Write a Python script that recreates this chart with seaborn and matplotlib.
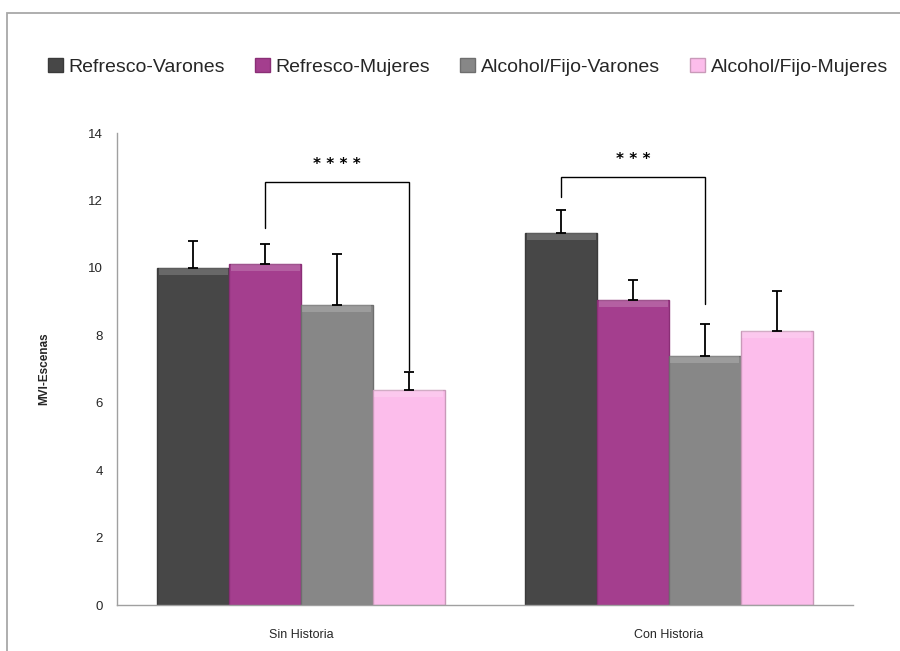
import matplotlib
matplotlib.use("Agg")
import matplotlib.pyplot as plt
from matplotlib.patches import Rectangle
import seaborn as sns
import pandas as pd
import numpy as np

# Data
grupos = ["Sin Historia", "Con Historia"]
condiciones = ["Refresco-Varones", "Refresco-Mujeres", "Alcohol/Fijo-Varones", "Alcohol/Fijo-Mujeres"]
media_sin = [10.0, 10.12, 8.9, 6.38]
media_con = [11.03, 9.05, 7.39, 8.13]
error_sin = [0.80, 0.59, 1.51, 0.53]
error_con = [0.69, 0.59, 0.95, 1.18]
colores = ["#474747", "#A43E8E", "#878787", "#FCBDEB"]
bordes = ["#3a3a3a", "#8a2f76", "#6e6e6e", "#c99ab9"]

# Significance brackets: (group, left condition, right condition, left foot, top, right foot, label)
corchetes = [
    (0, 1, 3, 11.18, 12.55, 6.97, "* * * *"),
    (1, 0, 2, 12.10, 12.70, 8.93, "* * *"),
]

sns.set_style("white")
plt.rcParams["font.family"] = ["Liberation Sans", "DejaVu Sans"]

filas = []
for g, medias, errs in [(grupos[0], media_sin, error_sin), (grupos[1], media_con, error_con)]:
    for c, m, e in zip(condiciones, medias, errs):
        filas.append({"grupo": g, "condicion": c, "valor": m, "error": e})
df = pd.DataFrame(filas)

fig = plt.figure(figsize=(9, 6.51), dpi=100)
ax = fig.add_axes([117 / 900, 1 - 605 / 651, 736 / 900, 472 / 651])

sns.barplot(data=df, x="grupo", y="valor", hue="condicion", order=grupos,
            hue_order=condiciones, palette=colores, width=0.78, gap=0,
            errorbar=None, ax=ax, legend=False, saturation=1)

# Style bars and add upper error bars from the data
centros = {}
barras = list(ax.containers)
for ci, cont in enumerate(barras):
    for gi, patch in enumerate(cont.patches):
        patch.set_edgecolor(bordes[ci])
        patch.set_linewidth(1.0)
        xc = patch.get_x() + patch.get_width() / 2
        centros[(gi, ci)] = xc
        fila = df[(df.grupo == grupos[gi]) & (df.condicion == condiciones[ci])].iloc[0]
        h = fila.valor
        ax.errorbar(xc, h, yerr=[[0], [fila.error]], fmt="none", ecolor="black",
                    elinewidth=1.3, capsize=3.5, capthick=1.3, zorder=5)
        # light bevel strip along the top of each bar
        ax.add_patch(Rectangle((patch.get_x() + 0.004, h - 0.2), patch.get_width() - 0.008, 0.2,
                               facecolor="white", alpha=0.18, linewidth=0, zorder=4))

# Significance brackets
for gi, li, ri, yl, yt, yr, txt in corchetes:
    x1, x2 = centros[(gi, li)], centros[(gi, ri)]
    ax.plot([x1, x1, x2, x2], [yl, yt, yt, yr], color="black", lw=1.0, zorder=6,
            solid_joinstyle="miter")
    ax.text((x1 + x2) / 2, yt + 0.3, txt, ha="center", va="bottom", fontsize=11,
            fontweight="bold", family="DejaVu Sans", color="black")

ax.set_ylim(0, 14)
ax.set_xlim(-0.5, 1.5)
ax.set_yticks(np.arange(0, 15, 2))
ax.set_yticklabels([str(v) for v in range(0, 15, 2)], fontsize=9.5)
ax.set_xticks([-0.5, 0.5, 1.5])
ax.set_xticklabels([])
ax.set_xticks([0, 1], minor=True)
ax.set_xticklabels(grupos, minor=True, fontsize=9)
ax.tick_params(axis="x", which="minor", length=0, pad=17)
ax.tick_params(axis="x", which="major", direction="out", length=5, color="#A0A0A0", width=1)
ax.tick_params(axis="y", direction="out", length=4, color="#A0A0A0", width=1, pad=6)
ax.set_xlabel("")
ax.set_ylabel("MVI-Escenas", fontsize=8.5, fontweight="bold", labelpad=27)
for s in ["top", "right"]:
    ax.spines[s].set_visible(False)
for s in ["left", "bottom"]:
    ax.spines[s].set_color("#A0A0A0")
    ax.spines[s].set_linewidth(1)

# Legend
handles = [Rectangle((0, 0), 1, 1, facecolor=c, edgecolor=b) for c, b in zip(colores, bordes)]
fig.legend(handles, condiciones, loc="center", bbox_to_anchor=(468 / 900, 1 - 67 / 651),
           ncol=4, frameon=False, fontsize=14, handlelength=0.75, handleheight=0.75,
           handletextpad=0.3, columnspacing=1.55)

# Outer frame of the chart area
fig.add_artist(Rectangle((7 / 900, -0.1), 1.2, 1 - 13 / 651 + 0.1, transform=fig.transFigure,
                         fill=False, edgecolor="#A8A8A8", linewidth=1.3))

fig.savefig("out.png", dpi=100)
